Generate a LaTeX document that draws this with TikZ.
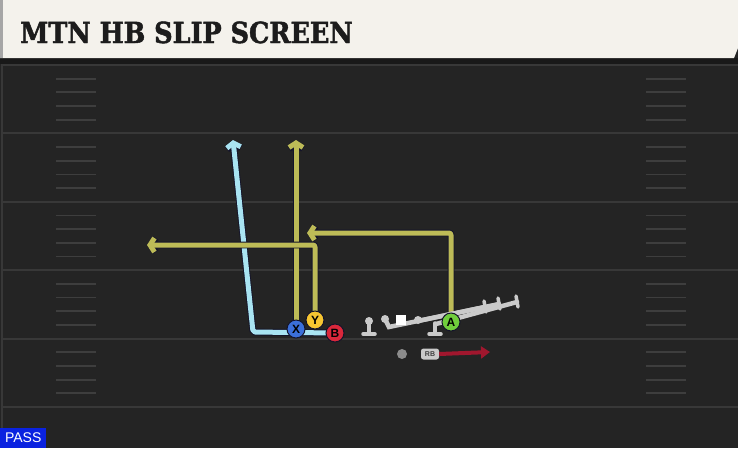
\documentclass[tikz,border=0pt]{standalone}
\usepackage{fontspec}
\usetikzlibrary{arrows.meta}
\newfontfamily\titlefont{DejaVu Serif}[FakeStretch=0.88, FakeBold=1.6]
\newfontfamily\labelfont{Liberation Sans}
\definecolor{field}{HTML}{242424}
\definecolor{yardline}{HTML}{383838}
\definecolor{hashline}{HTML}{3E3E3E}
\definecolor{titlebar}{HTML}{F4F2EC}
\definecolor{titleink}{HTML}{1C1C1C}
\definecolor{edge}{HTML}{14142A}
\definecolor{yellowroute}{HTML}{BDBB57}
\definecolor{blueroute}{HTML}{A9E4F2}
\definecolor{xblue}{HTML}{3B6FD9}
\definecolor{yyellow}{HTML}{F6C531}
\definecolor{bred}{HTML}{D9283B}
\definecolor{agreen}{HTML}{70CD3C}
\definecolor{oline}{HTML}{CACACA}
\definecolor{rbred}{HTML}{A0172E}
\definecolor{passblue}{HTML}{0A22E0}
\pgfdeclarelayer{field}
\pgfdeclarelayer{routes}
\pgfsetlayers{field,routes,main}

\begin{document}
\begin{tikzpicture}[x=1pt, y=-1pt,
		yard/.style={draw=yardline, line width=2pt},
		hashmark/.style={draw=hashline, line width=1.8pt},
		route/.style={line width=5pt, line join=round, rounded corners=2pt,
			preaction={draw=edge, line width=6.8pt}, -{Straight Barb[length=4.5pt,width=14pt]}},
		player/.style={circle, draw=edge, line width=1pt, minimum size=18pt, inner sep=0pt,
			font=\labelfont\bfseries\fontsize{12}{12}\selectfont, text=black},
		lineman/.style={draw=oline, line width=3.5pt, line cap=round}]
				\useasboundingbox (0,0) rectangle (738,448);

				% フィールド
				\begin{pgfonlayer}{field}
					\fill[field] (0,0) rectangle (738,448);
					\draw[yardline, line width=1.5pt] (2,60) -- (2,448);
					\foreach \y in {65,133.4,201.8,270.2,338.6,407}
						\draw[yard] (2,\y) -- (738,\y);
					\foreach \b in {65,133.4,201.8,270.2,338.6}
						\foreach \k in {1,2,3,4} {
							\draw[hashmark] (56,{\b+13.68*\k}) -- (96,{\b+13.68*\k});
							\draw[hashmark] (646,{\b+13.68*\k}) -- (686,{\b+13.68*\k});
						}
				\end{pgfonlayer}

				% タイトル
				\fill[black!90] (0,58) rectangle (738,64);
				\fill[titlebar] (0,0) -- (738,0) -- (738,48) -- (734,58) -- (0,58) -- cycle;
				\fill[black!35] (0,0) rectangle (3,58);
				\node[anchor=base west, inner sep=0pt, text=titleink,
					font=\titlefont\bfseries\fontsize{29}{29}\selectfont] (title) at (20,43) {MTN HB SLIP SCREEN};

				% ライン
				\fill[oline] (369,321) circle (4);
				\draw[lineman] (369,322) -- (369,333);
				\draw[lineman] (363,334) -- (375,334);
				\fill[oline] (385,319) circle (4);
				\draw[lineman, line width=4.5pt] (385,319) -- (389,327) -- (485,307);
				\draw[lineman] (484,301) -- (486,312);
				\draw[lineman, line width=4.5pt] (418,321) -- (499,304);
				\draw[lineman] (498,298) -- (500,309);
				\draw[lineman, line width=4.5pt] (436,324) -- (517,302);
				\draw[lineman] (516,296) -- (518,307);
				\fill[white] (396,315) rectangle (406,325);
				\fill[oline] (418,320) circle (4);
				\draw[lineman] (435,323) -- (435,333);
				\draw[lineman] (429,334) -- (441,334);
				\fill[black!45] (402,354) circle (5);

				% 選手を置く
				\node[player, fill=xblue] (X) at (296,329) {X};
				\node[player, fill=yyellow] (Y) at (315,320) {Y};
				\node[player, fill=bred] (B) at (335,333) {B};
				\node[player, fill=agreen] (A) at (451,322) {A};
				\node[rounded corners=2.5pt, fill=oline, minimum width=18pt, minimum height=11pt, inner sep=0pt,
					text=black!75, font=\labelfont\bfseries\fontsize{7}{7}\selectfont] (RB) at (430,354) {RB};
				\node[fill=passblue, text=white, anchor=south west, minimum width=46pt, minimum height=20pt,
					inner sep=0pt, font=\labelfont\fontsize{14}{14}\selectfont] (pass) at (0,448) {PASS};

				% ルートの端
				\coordinate (xcorner) at (253,332);
				\coordinate (xend) at (233,140);
				\coordinate (xgo) at (296,140);
				\coordinate (yend) at (147,245);
				\coordinate (aend) at (307,233);
				\coordinate (rbend) at (490,352);

				% ルートを引く
				\begin{pgfonlayer}{routes}
					\draw[route, draw=blueroute] (B.center) -- (xcorner) -- (xend);
					\draw[route, draw=yellowroute] (X.center) -- (xgo);
					\draw[route, draw=yellowroute] (Y.center) |- (yend);
					\draw[route, draw=yellowroute] (A.center) |- (aend);
				\end{pgfonlayer}
				\draw[rbred, line width=4pt, -{Triangle[length=9pt,width=12pt]}] (RB.east) -- (rbend);
			\end{tikzpicture}
\end{document}
